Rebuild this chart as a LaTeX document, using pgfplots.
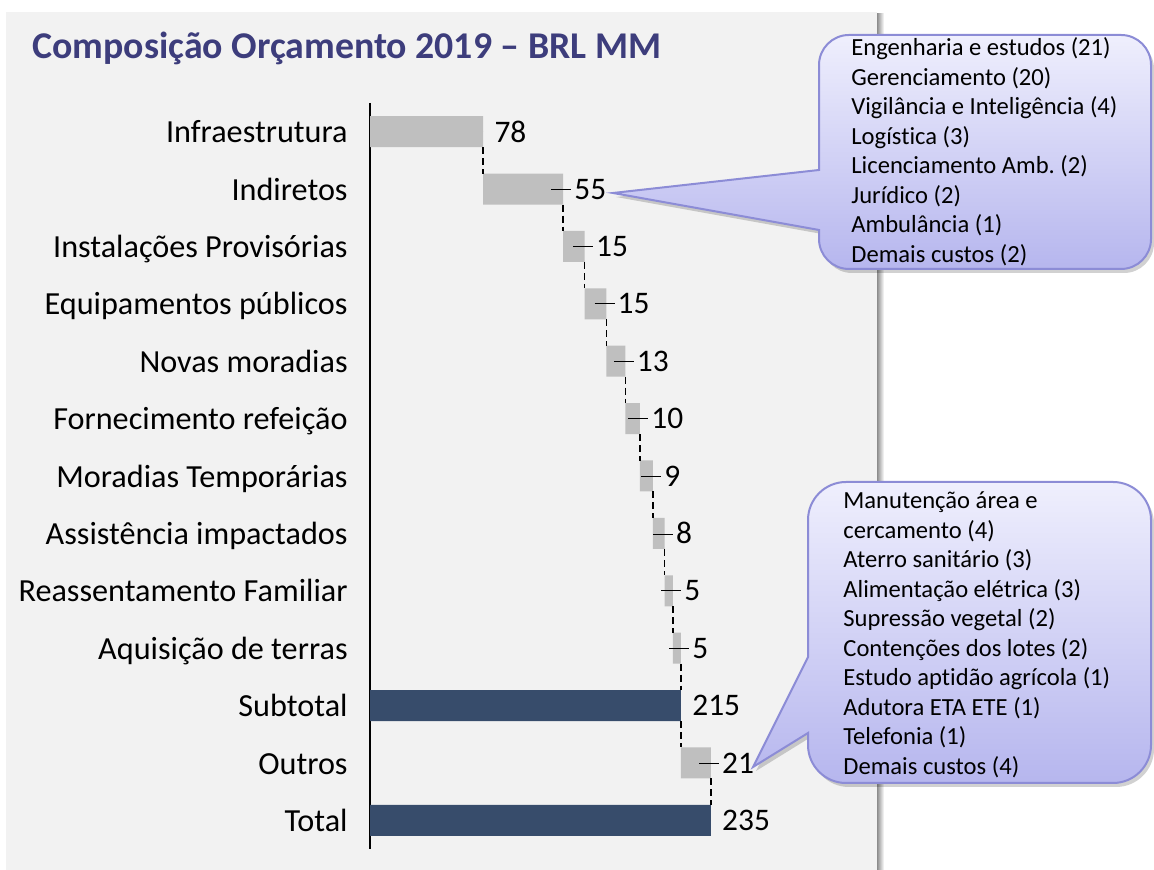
\documentclass[border=0pt]{standalone}
\usepackage{pgfplots}
\pgfplotsset{compat=1.18}
\usepackage{pgfplotstable}
\usepackage{fontspec}
\setmainfont{Carlito}[Ligatures=NoCommon]
\frenchspacing
\definecolor{panel}{HTML}{F2F2F2}
\definecolor{barg}{HTML}{BFBFBF}
\definecolor{bard}{HTML}{374C6B}
\definecolor{titlec}{HTML}{3D3D7C}
\definecolor{ctop}{HTML}{EFEFFD}
\definecolor{cbot}{HTML}{B6B6EE}
\definecolor{cborder}{HTML}{8C8CD6}
\newcommand{\ld}{\llap{\rule[0.3em]{10pt}{0.5pt}\hspace{1.5pt}}}
\newcommand{\lblfont}{\fontsize{15.7}{18}\selectfont}
\newcommand{\catfont}{\fontsize{16.1}{19}\selectfont}
\newcommand{\cfont}{\fontsize{12.3}{14}\selectfont}

\pgfplotstableread{
y base gray dark
0 0 78.1 0
1 78.1 55.1 0
2 133.2 15.0 0
3 148.2 14.9 0
4 163.1 13.2 0
5 176.3 10.0 0
6 186.3 9.0 0
7 195.3 8.1 0
8 203.4 5.6 0
9 209.0 5.6 0
10 0 0 214.6
11 214.6 20.6 0
12 0 0 235.2
}\bars

\pgfplotsset{common/.style={
  scale only axis, width=217.35pt, height=373pt,
  xmin=0, xmax=300, ymin=-0.5, ymax=12.5, y dir=reverse,
  at={(185pt,10.5pt)}, anchor=south west, clip=false}}

\begin{document}
\begin{tikzpicture}[x=0.5pt,y=0.5pt]
\path (0,0) rectangle (1154,870);
\fill[panel] (6,0) rectangle (877,858);
\shade[left color=black!45, right color=white] (877,0) rectangle (884,856);
\node[anchor=base west, font=\fontsize{18.9}{22}\selectfont\bfseries, text=titlec, inner sep=0pt] at (32,811) {Composição Orçamento 2019 – BRL MM};

\begin{axis}[common, xbar stacked, bar width=15.5pt,
  axis x line=none, axis y line*=left, axis line style={line width=1pt, -},
  ytick={0,...,12},
  yticklabels={Infraestrutura, Indiretos, Instalações Provisórias, Equipamentos públicos, Novas moradias, Fornecimento refeição, Moradias Temporárias, Assistência impactados, Reassentamento Familiar, Aquisição de terras, Subtotal, Outros, Total},
  major tick length=0pt,
  yticklabel style={font=\catfont, inner sep=0pt, xshift=-11pt, yshift=-2.8pt, text height=0.75em, text depth=0.2em},
]
\addplot[draw=none, fill=none] table[x=base, y=y] {\bars};
\addplot[draw=none, fill=barg] table[x=gray, y=y] {\bars};
\addplot[draw=none, fill=bard] table[x=dark, y=y] {\bars};
\end{axis}

\begin{axis}[common, hide axis]
\addplot[black, line width=0.7pt, dash pattern=on 3.5pt off 2pt, unbounded coords=jump] coordinates {
(78.1,0.27) (78.1,0.73) (78.1,nan)
(133.2,1.27) (133.2,1.73) (133.2,nan)
(148.2,2.27) (148.2,2.73) (148.2,nan)
(163.1,3.27) (163.1,3.73) (163.1,nan)
(176.3,4.27) (176.3,4.73) (176.3,nan)
(186.3,5.27) (186.3,5.73) (186.3,nan)
(195.3,6.27) (195.3,6.73) (195.3,nan)
(203.4,7.27) (203.4,7.73) (203.4,nan)
(209.0,8.27) (209.0,8.73) (209.0,nan)
(214.6,9.27) (214.6,9.73) (214.6,nan)
(214.6,10.27) (214.6,10.73) (214.6,nan)
(235.2,11.27) (235.2,11.73)
};
\addplot[only marks, mark=*, mark size=0pt, mark options={draw=none,fill=none},
  point meta=explicit symbolic, nodes near coords,
  nodes near coords style={anchor=west, xshift=5.5pt, inner sep=0pt, font=\lblfont, text=black}]
coordinates {
(78.1,0) [78]
(133.2,1) [\ld 55]
(148.2,2) [\ld 15]
(163.1,3) [\ld 15]
(176.3,4) [\ld 13]
(186.3,5) [\ld 10]
(195.3,6) [\ld 9]
(203.4,7) [\ld 8]
(209.0,8) [\ld 5]
(214.6,9) [\ld 5]
(214.6,10) [215]
(235.2,11) [\ld 21]
(235.2,12) [235]
};
\end{axis}

% callout 1
\fill[black, opacity=0.18, shift={(3,-4)}] (849,835) -- (1121,835) arc[start angle=90,end angle=0,radius=30] -- (1151,631) arc[start angle=0,end angle=-90,radius=30] -- (849,601) arc[start angle=270,end angle=180,radius=30] -- (819,640) -- (613,677) -- (819,700) -- (819,805) arc[start angle=180,end angle=90,radius=30] -- cycle;
\shadedraw[top color=ctop, bottom color=cbot, draw=cborder, line width=1pt] (849,835) -- (1121,835) arc[start angle=90,end angle=0,radius=30] -- (1151,631) arc[start angle=0,end angle=-90,radius=30] -- (849,601) arc[start angle=270,end angle=180,radius=30] -- (819,640) -- (613,677) -- (819,700) -- (819,805) arc[start angle=180,end angle=90,radius=30] -- cycle;
\foreach \t [count=\i from 0] in {{Engenharia e estudos (21)},{Gerenciamento (20)},{Vigilância e Inteligência (4)},{Logística (3)},{Licenciamento Amb. (2)},{Jurídico (2)},{Ambulância (1)},{Demais custos (2)}}
  \node[anchor=base west, inner sep=0pt, font=\cfont] at (851, 814-29.5*\i) {\t};

% callout 2
\fill[black, opacity=0.18, shift={(3,-4)}] (846,388) -- (1113,388) arc[start angle=90,end angle=0,radius=38] -- (1151,125) arc[start angle=0,end angle=-90,radius=38] -- (846,87) arc[start angle=270,end angle=180,radius=38] -- (808,137) -- (753,103) -- (808,213) -- (808,350) arc[start angle=180,end angle=90,radius=38] -- cycle;
\shadedraw[top color=ctop, bottom color=cbot, draw=cborder, line width=1pt] (846,388) -- (1113,388) arc[start angle=90,end angle=0,radius=38] -- (1151,125) arc[start angle=0,end angle=-90,radius=38] -- (846,87) arc[start angle=270,end angle=180,radius=38] -- (808,137) -- (753,103) -- (808,213) -- (808,350) arc[start angle=180,end angle=90,radius=38] -- cycle;
\foreach \t [count=\i from 0] in {{Manutenção área e},{cercamento (4)},{Aterro sanitário (3)},{Alimentação elétrica (3)},{Supressão vegetal (2)},{Contenções dos lotes (2)},{Estudo aptidão agrícola (1)},{Adutora ETA ETE (1)},{Telefonia (1)},{Demais custos (4)}}
  \node[anchor=base west, inner sep=0pt, font=\cfont] at (843, 361-29.5*\i) {\t};
\end{tikzpicture}
\end{document}
